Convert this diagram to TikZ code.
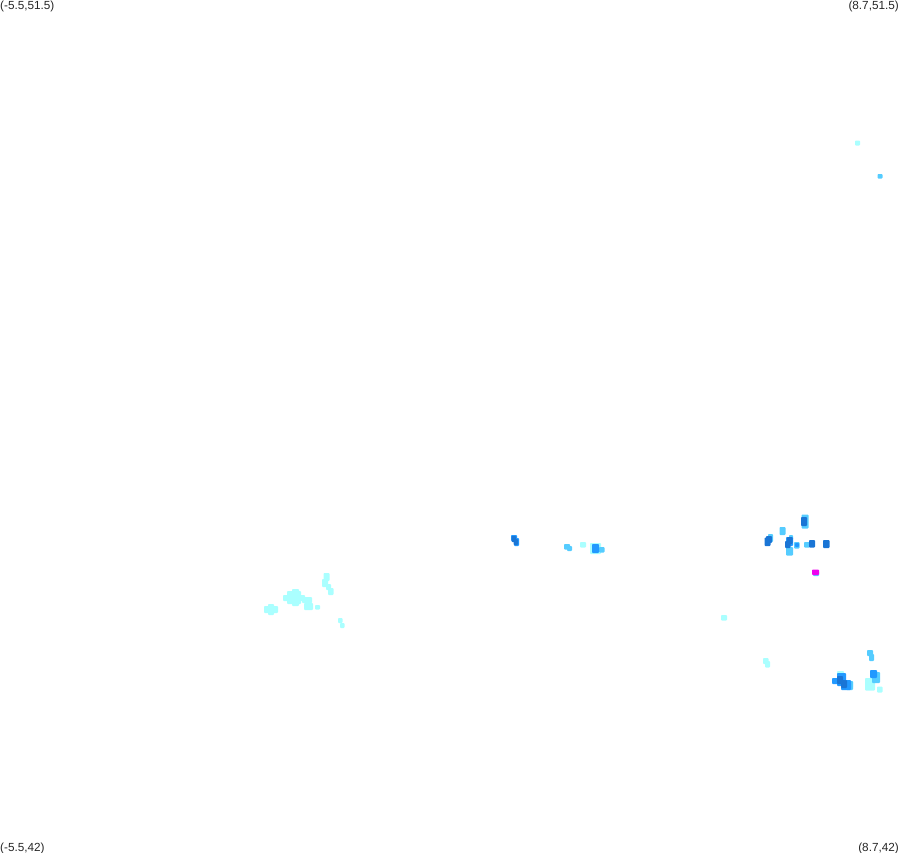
\documentclass[tikz,border=0pt]{standalone}
\usepackage{fontspec}
\setmainfont{Liberation Sans}
\definecolor{paleblob}{HTML}{AAFFFF}
\definecolor{lightblob}{HTML}{55CCFF}
\definecolor{midblob}{HTML}{2299FF}
\definecolor{darkblob}{HTML}{1A75D5}
\definecolor{magblob}{HTML}{EE00EE}
\tikzset{
    corner/.style={inner sep=0pt, font=\fontsize{11.75}{12}\selectfont, text=black!85},
    blob/.style={rounded corners=0.9pt}
}
% one patch, from pixel corner to pixel corner
\newcommand{\patch}[5]{\fill[blob, #1] (#2,#3) rectangle (#4,#5);}

\begin{document}
\begin{tikzpicture}[x=1pt, y=-1pt]
    \useasboundingbox (0,0) rectangle (899,852);

    % Corner labels
    \node[corner, anchor=north west] (topleft) at (0,0.3) {(-5.5,51.5)};
    \node[corner, anchor=north east] (topright) at (899,0.3) {(8.7,51.5)};
    \node[corner, anchor=north west] (bottomleft) at (0,842.5) {(-5.5,42)};
    \node[corner, anchor=north east] (bottomright) at (899,842.5) {(8.7,42)};

    % Far top right
    \patch{paleblob}{855}{140.5}{860}{145.5}
    \patch{lightblob}{877.5}{174}{882.5}{178.5}

    % Pale patches
    \foreach \xa/\ya/\xb/\yb in {264/606/278/613, 268/604/274/615, 287/591/301/604, 283/595/305/601,
        292/589/299/606, 302/597/312/603, 304/603/313/610, 308/602/312/609, 315/605/320/609.5,
        323.5/573/329.5/581, 322/579/328/587, 326/584/331/590, 328/588/333.5/595,
        338/618/342.5/623, 340/623/344.5/628, 721/615/727/620.5,
        763/658/768.5/664, 765/661/770/667.5, 580/542/586/547.5, 590/543/601/554,
        865/678/875/690.5, 877/686.5/882.5/692.5, 837/671/844/676, 850/681/853/688}
        {\patch{paleblob}{\xa}{\ya}{\xb}{\yb}}

    % Light blue patches
    \foreach \xa/\ya/\xb/\yb in {564/544/570/549.5, 567/546/572/551, 599/547/604.5/552.5,
        779.5/527/785.5/535, 768/534/773/542, 786/547/793/555.5, 789/535/793/540,
        794/542/799.5/548.5, 804/542/810/547.5, 801.5/514.5/808.5/528.5,
        867/650/873/656, 869/654/874/661, 872/672/880/683, 846/681/853/690}
        {\patch{lightblob}{\xa}{\ya}{\xb}{\yb}}

    % Mid blue patches
    \foreach \xa/\ya/\xb/\yb in {511/535/517/541, 514/538/519/546, 592/544/599/553,
        786/537/793/546, 795/543/799/547, 832/678/838/684, 837/673/846/686,
        841/680/851/690, 870/670/877/678}
        {\patch{midblob}{\xa}{\ya}{\xb}{\yb}}

    % Darkest patches
    \foreach \xa/\ya/\xb/\yb in {511.5/536/516/542, 513.5/539/518/545, 764.5/537.5/770.5/546,
        766/536/772/543, 785/541/790.5/548, 787/537/792.5/544, 801/517/807/526,
        809/540/815/547.5, 823/540/829.5/548, 837/676/843/684, 841/680/847/688}
        {\patch{darkblob}{\xa}{\ya}{\xb}{\yb}}

    % Single magenta spot
    \patch{lightblob}{813}{571}{819}{576}
    \patch{magblob}{812}{569.5}{819}{575}
\end{tikzpicture}
\end{document}
